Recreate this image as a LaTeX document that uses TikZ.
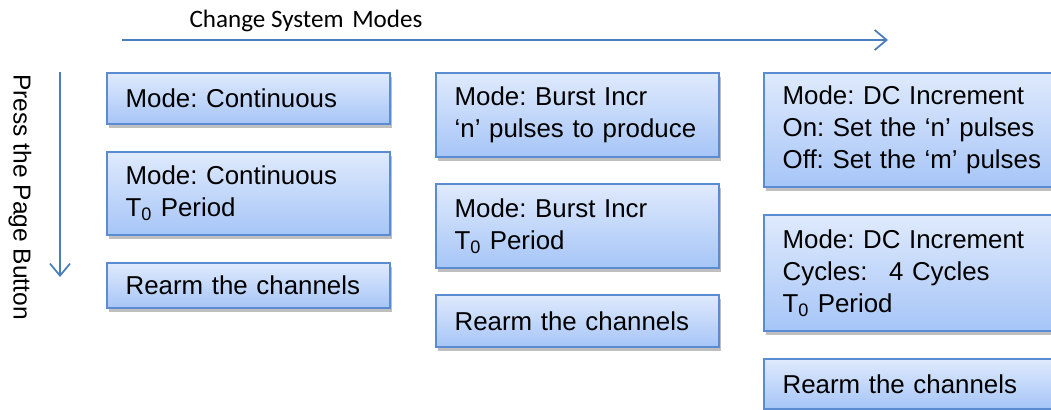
\documentclass[tikz,border=0pt]{standalone}
\usepackage{fontspec}
\setmainfont{Liberation Sans}
\newfontfamily\headfont{Carlito}
\usetikzlibrary{arrows.meta,shadows}
\frenchspacing

\definecolor{boxtop}{HTML}{DFEAFC}
\definecolor{boxbottom}{HTML}{A6C5F7}
\definecolor{boxline}{HTML}{5B8BD0}
\definecolor{arrowblue}{HTML}{4A7EBB}

\tikzset{
  modebox/.style={draw=boxline, line width=1.5pt, top color=boxtop, bottom color=boxbottom,
    drop shadow={shadow xshift=1.5pt, shadow yshift=-3pt, fill=black, opacity=0.25},
    anchor=north west, align=left, inner xsep=14pt, inner ysep=0pt, text width=184pt,
    font=\fontsize{19.4}{24}\selectfont},
  modewide/.style={modebox, text width=204pt},
  flowarrow/.style={draw=arrowblue, line width=1.3pt, ->}
}

\begin{document}
\begin{tikzpicture}[x=0.75pt, y=-0.75pt, >={Straight Barb[length=9pt,width=15pt]}]
  \useasboundingbox (0,0) rectangle (1051,410);

  % direction arrows
  \coordinate (hstart) at (122,40);
  \coordinate (hend) at (888,40);
  \coordinate (vstart) at (60,72);
  \coordinate (vend) at (60,277);
  \draw[flowarrow] (hstart) -- (hend);
  \draw[flowarrow] (vstart) -- (vend);
  \node[font=\headfont\fontsize{18.8}{22}\selectfont] (modes) at (306,21) {Change System\hspace{0.35em}Modes};
  \node[rotate=-90, font=\fontsize{18.4}{22}\selectfont] (page) at (20,197) {Press the Page Button};

  % continuous
  \node[modebox, minimum height=38.3pt] (cont1) at (106,72) {Mode: Continuous};
  \node[modebox, minimum height=62.3pt] (cont2) at (106,151) {Mode: Continuous\\T\textsubscript{0} Period};
  \node[modebox, minimum height=33.8pt] (cont3) at (106,262) {Rearm the channels};

  % burst
  \node[modebox, minimum height=63pt] (burst1) at (435,72) {Mode: Burst Incr\\‘n’ pulses to produce};
  \node[modebox, minimum height=63pt] (burst2) at (435,183) {Mode: Burst Incr\\T\textsubscript{0} Period};
  \node[modebox, minimum height=39pt] (burst3) at (435,294) {Rearm the channels};

  % dc increment
  \node[modewide, minimum height=85.5pt] (dc1) at (763,72) {Mode: DC Increment\\On: Set the ‘n’ pulses\\Off: Set the ‘m’ pulses};
  \node[modewide, minimum height=87pt] (dc2) at (763,214) {Mode: DC Increment\\Cycles:\hspace{0.5em} 4 Cycles\\T\textsubscript{0} Period};
  \node[modewide, minimum height=37.5pt] (dc3) at (763,358) {Rearm the channels};
\end{tikzpicture}
\end{document}
